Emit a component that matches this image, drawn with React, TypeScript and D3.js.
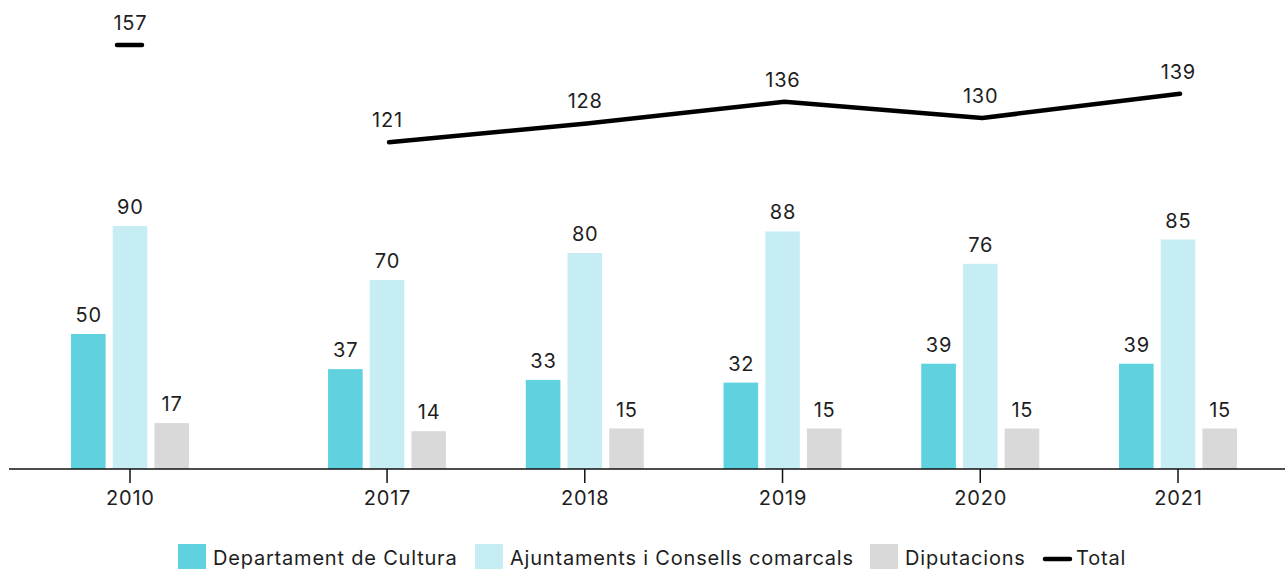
import React from "react";
import * as d3 from "d3";

const years = ["2010", "2017", "2018", "2019", "2020", "2021"];
const departament = [50, 37, 33, 32, 39, 39];
const ajuntaments = [90, 70, 80, 88, 76, 85];
const diputacions = [17, 14, 15, 15, 15, 15];
const total = [157, 121, 128, 136, 130, 139];
const seriesNames = ["Departament de Cultura", "Ajuntaments i Consells comarcals", "Diputacions"];
const seriesColors = ["#5fd1df", "#c7edf4", "#d9d9d9"];

const W = 1285;
const H = 569;
const FONT = "Inter, 'Noto Sans', sans-serif";

export default function App() {
  const baseline = 469;
  const y = d3.scaleLinear().domain([0, 100]).range([baseline, baseline - 270]);
  // 2010 is separated from the rest by a wider gap
  const slot = years.map((_, i) => (i === 0 ? 0 : i + 0.3));
  const x = d3.scaleLinear().domain([0, 5.3]).range([130, 1178]);
  const inner = d3.scaleBand().domain(["0", "1", "2"]).range([-59, 59]).paddingInner(0.17);
  const series = [departament, ajuntaments, diputacions];

  const lineGen = d3
    .line<number>()
    .x((_, i) => x(slot[i + 1]) + 2)
    .y((d) => y(d));

  const textColor = "#1e1e1e";
  const ls = 0.8;

  return (
    <svg width={W} height={H} style={{ position: "absolute", left: 0, top: 0, fontFamily: FONT }}>
      <rect width={W} height={H} fill="#fff" />
      {series.map((vals, s) =>
        vals.map((v, i) => {
          const bx = x(slot[i]) + (inner(String(s)) as number);
          const bw = inner.bandwidth();
          return (
            <g key={`b${s}-${i}`}>
              <rect x={bx} y={y(v)} width={bw} height={baseline - y(v)} fill={seriesColors[s]} />
              <text x={bx + bw / 2 + ls / 2} y={y(v) - 12} textAnchor="middle" fontSize={20} letterSpacing={ls} fill={textColor}>
                {v}
              </text>
            </g>
          );
        })
      )}
      {/* axis */}
      <line x1={9} x2={W} y1={baseline} y2={baseline} stroke="#111" strokeWidth={1.5} />
      {years.map((yr, i) => (
        <g key={yr}>
          <line x1={x(slot[i])} x2={x(slot[i])} y1={baseline} y2={baseline + 14} stroke="#111" strokeWidth={1.5} />
          <text x={x(slot[i]) + ls / 2} y={baseline + 36} textAnchor="middle" fontSize={20} letterSpacing={ls} fill={textColor}>
            {yr}
          </text>
        </g>
      ))}
      {/* total line */}
      <line
        x1={x(slot[0]) - 13}
        x2={x(slot[0]) + 12}
        y1={y(total[0])}
        y2={y(total[0])}
        stroke="#000"
        strokeWidth={4.5}
        strokeLinecap="round"
      />
      <path d={lineGen(total.slice(1)) || ""} fill="none" stroke="#000" strokeWidth={4.5} strokeLinecap="round" strokeLinejoin="round" />
      {total.map((v, i) => (
        <text key={`t${i}`} x={x(slot[i]) + ls / 2} y={y(v) - 15} textAnchor="middle" fontSize={20} letterSpacing={ls} fill={textColor}>
          {v}
        </text>
      ))}
      {/* legend */}
      <g>
        {[
          { x: 178, t: 213 },
          { x: 475, t: 510 },
          { x: 870, t: 905 },
        ].map((p, s) => (
          <g key={`l${s}`}>
            <rect x={p.x} y={544} width={28} height={26} fill={seriesColors[s]} />
            <text x={p.t} y={565} fontSize={20} letterSpacing={ls} fill={textColor}>
              {seriesNames[s]}
            </text>
          </g>
        ))}
        <line x1={1045} x2={1070} y1={559} y2={559} stroke="#000" strokeWidth={4.5} strokeLinecap="round" />
        <text x={1076} y={565} fontSize={20} letterSpacing={ls} fill={textColor}>
          Total
        </text>
      </g>
    </svg>
  );
}
